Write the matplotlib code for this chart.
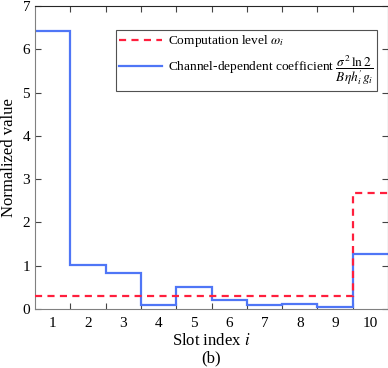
import matplotlib
matplotlib.use("Agg")
import matplotlib.pyplot as plt
import numpy as np
from matplotlib.ticker import FixedLocator, NullFormatter, FixedFormatter

plt.rcParams['font.family'] = ['Liberation Serif', 'DejaVu Serif']
plt.rcParams['mathtext.fontset'] = 'stix'

slots = [1, 2, 3, 4, 5, 6, 7, 8, 9, 10]
computation_level = [0.31, 0.31, 0.31, 0.31, 0.31, 0.31, 0.31, 0.31, 0.31, 2.69]
channel_coef = [6.42, 1.02, 0.84, 0.085, 0.51, 0.20, 0.09, 0.12, 0.05, 1.27]

fig = plt.figure(figsize=(3.88, 3.68), dpi=100)
ax = fig.add_axes([35/388, 1 - 309/368, 353/388, 303/368])

edges = np.arange(len(slots) + 1) + 0.5
ax.stairs(computation_level, edges, baseline=None, color='#ff1f3d', lw=1.6,
          linestyle=(0, (3.2, 2.4)), label=r'Computation level $\omega_i$', zorder=3)
ax.stairs(channel_coef, edges, baseline=None, color='#4f76f6', lw=1.6,
          label=r'Channel-dependent coefficient $\dfrac{\sigma^2\,\ln 2}{B\eta h_i^{\prime} g_i}$', zorder=2)

ax.set_xlim(0.5, 10.5)
ax.set_ylim(0, 7)
ax.xaxis.set_major_locator(FixedLocator(edges[1:-1]))
ax.xaxis.set_major_formatter(NullFormatter())
ax.xaxis.set_minor_locator(FixedLocator(slots))
ax.xaxis.set_minor_formatter(FixedFormatter([str(s) for s in slots]))
ax.tick_params(axis='x', which='minor', length=0, labelsize=11, pad=6)
ax.tick_params(axis='x', which='major', direction='in', length=4, top=True, color='#444444')
ax.set_yticks(range(0, 8))
ax.tick_params(axis='y', direction='in', length=4, right=True, labelsize=11, color='#444444')
for s in ['left', 'bottom']:
    ax.spines[s].set_color('#808080')
for s in ['top', 'right']:
    ax.spines[s].set_color('#262626')
for s in ax.spines.values():
    s.set_linewidth(0.8)

ax.set_xlabel(r'Slot index $i$', fontsize=12, labelpad=2)
ax.set_ylabel('Normalized value', fontsize=12, labelpad=4)
fig.text(211/388, 1 - 358/368, '(b)', ha='center', va='center', fontsize=12)

leg = ax.legend(loc='upper right', bbox_to_anchor=((377 - 35) / 353, (309 - 30) / 303),
                fontsize=9.6, frameon=True, fancybox=False, edgecolor='#262626',
                handlelength=3.2, handletextpad=0.45, borderaxespad=0, labelspacing=0.3,
                borderpad=0.25)
leg.get_frame().set_linewidth(0.8)

fig.savefig('out.png', dpi=100)
